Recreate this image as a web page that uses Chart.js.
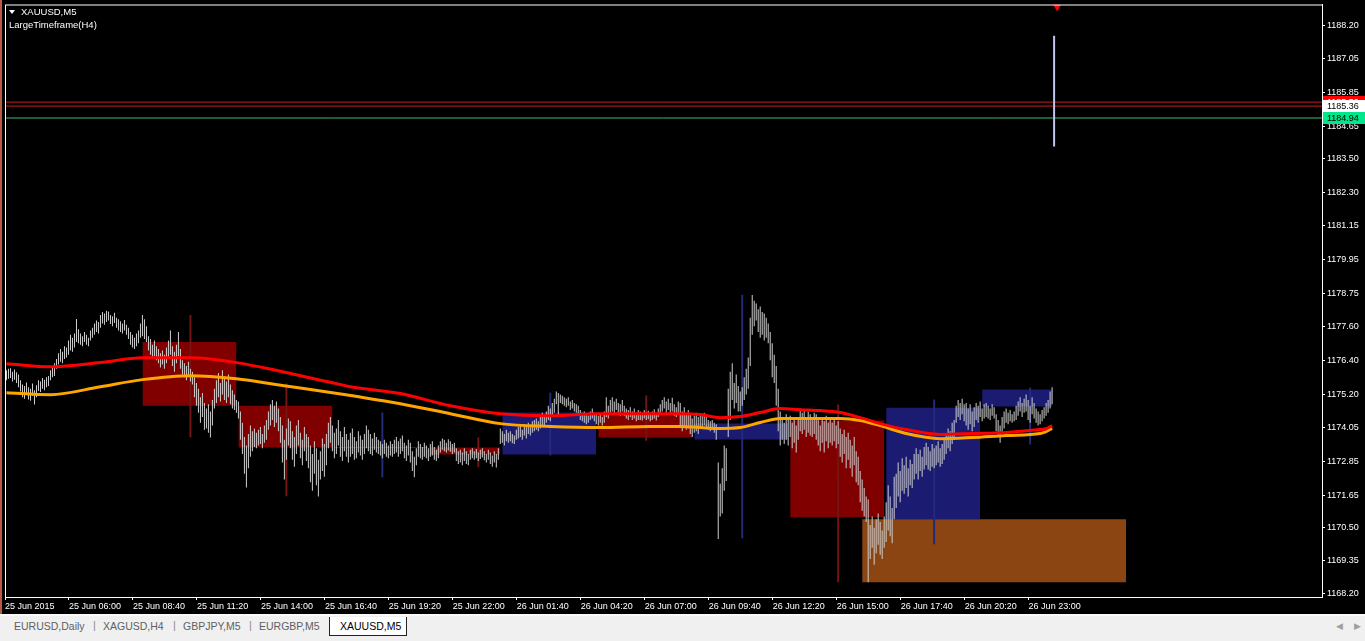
<!DOCTYPE html>
<html>
<head>
<meta charset="utf-8">
<script src="https://cdn.jsdelivr.net/npm/chart.js@4.4.0/dist/chart.umd.min.js"></script>
<style>
body{margin:0;background:#000;width:1365px;height:641px;overflow:hidden;position:relative;font-family:"Liberation Sans",Arial,sans-serif}
#c{position:absolute;left:0;top:0}
#edge{position:absolute;left:0;top:0;width:2px;height:614px;background:#b85a44}
#tabs{position:absolute;left:0;top:614px;width:1365px;height:27px;background:#f0f0f0;border-top:2px solid #fafafa;box-sizing:border-box}
.tab{position:absolute;top:4px;font-size:10.5px;color:#5f5f5f;white-space:nowrap}
.sep{position:absolute;top:3px;font-size:11px;color:#8a8a8a}
#active{position:absolute;left:329px;top:1px;width:78px;height:19px;background:#fff;border:1px solid #222;border-top:none;box-sizing:border-box}
#active span{position:absolute;left:10px;top:3px;font-size:10.5px;color:#000}
.arr{position:absolute;top:5px;font-size:9px;color:#a0a0a0}
</style>
</head>
<body>
<canvas id="c" width="1365" height="614"></canvas>
<div id="edge"></div>
<div id="tabs">
  <span class="tab" style="left:14px">EURUSD,Daily</span>
  <span class="sep" style="left:93px">|</span>
  <span class="tab" style="left:103px">XAGUSD,H4</span>
  <span class="sep" style="left:173px">|</span>
  <span class="tab" style="left:183px">GBPJPY,M5</span>
  <span class="sep" style="left:249px">|</span>
  <span class="tab" style="left:259px">EURGBP,M5</span>
  <div id="active"><span>XAUUSD,M5</span></div>
  <span class="arr" style="left:1336px">&#9664;</span>
  <span class="arr" style="left:1354px">&#9654;</span>
</div>
<script>
// time axis labels, one every 32 M5 bars
const xLabels = ['25 Jun 2015','25 Jun 06:00','25 Jun 08:40','25 Jun 11:20','25 Jun 14:00','25 Jun 16:40',
  '25 Jun 19:20','25 Jun 22:00','26 Jun 01:40','26 Jun 04:20','26 Jun 07:00','26 Jun 09:40','26 Jun 12:20',
  '26 Jun 15:00','26 Jun 17:40','26 Jun 20:20','26 Jun 23:00'];
const yTicks = [1168.20,1169.35,1170.50,1171.65,1172.85,1174.05,1175.20,1176.40,1177.60,1178.75,
  1179.95,1181.15,1182.30,1183.50,1184.65,1185.85,1187.05,1188.20];

// M5 bars (high / low)
const m5High = [
  1176.05,1176.10,1176.12,1176.00,1176.08,1175.98,1175.90,1175.70,1175.55,1175.50,
  1175.62,1175.45,1175.40,1175.58,1175.35,1175.52,1175.70,1175.65,1175.78,1175.72,
  1175.80,1175.85,1176.05,1176.15,1176.30,1176.45,1176.65,1176.80,1176.70,1176.90,
  1176.85,1177.10,1177.30,1177.20,1177.35,1177.86,1177.50,1177.35,1177.25,1177.40,
  1177.30,1177.20,1177.45,1177.55,1177.70,1177.80,1177.75,1178.00,1178.10,1178.05,
  1178.15,1178.12,1178.00,1177.95,1178.08,1177.90,1177.85,1177.78,1177.70,1177.82,
  1177.65,1177.55,1177.40,1177.30,1177.20,1177.35,1177.45,1177.70,1178.00,1177.85,
  1177.60,1177.25,1177.15,1176.95,1177.10,1176.90,1176.80,1176.65,1176.75,1176.60,
  1176.85,1177.10,1177.45,1176.90,1176.70,1176.95,1177.40,1176.80,1176.40,1176.30,
  1176.20,1176.35,1176.10,1176.00,1175.80,1175.60,1175.40,1175.10,1175.25,1174.90,
  1174.70,1174.85,1174.60,1175.00,1175.40,1175.70,1175.95,1175.60,1176.05,1175.80,
  1175.65,1175.90,1175.55,1175.35,1175.20,1175.00,1174.95,1174.60,1174.20,1173.70,
  1173.40,1173.80,1174.10,1173.90,1174.00,1173.85,1173.95,1174.05,1173.80,1174.10,
  1174.30,1174.60,1174.85,1175.00,1174.80,1174.95,1174.70,1174.40,1174.10,1173.60,
  1174.00,1174.35,1174.25,1173.90,1173.70,1174.10,1174.30,1173.85,1173.60,1174.05,
  1173.80,1173.70,1173.40,1173.10,1173.55,1173.30,1172.90,1173.20,1173.65,1173.45,
  1173.80,1174.20,1174.40,1174.10,1173.85,1174.00,1174.30,1173.90,1173.70,1174.05,
  1173.80,1173.60,1173.85,1174.00,1173.70,1173.55,1173.90,1173.75,1173.60,1173.80,
  1174.10,1173.95,1173.80,1173.65,1173.85,1173.70,1173.60,1173.55,1173.45,1173.60,
  1173.50,1173.40,1173.55,1173.45,1173.60,1173.70,1173.55,1173.65,1173.75,1173.50,
  1173.40,1173.60,1173.50,1173.20,1173.00,1173.30,1173.55,1173.45,1173.35,1173.50,
  1173.40,1173.30,1173.45,1173.55,1173.35,1173.25,1173.40,1173.55,1173.65,1173.60,
  1173.50,1173.62,1173.55,1173.45,1173.50,1173.30,1173.20,1173.25,1173.15,1173.30,
  1173.20,1173.10,1173.25,1173.30,1173.20,1173.28,1173.15,1173.25,1173.30,1173.20,
  1173.10,1173.25,1173.15,1173.05,1173.20,1173.10,1173.30,1174.00,1173.90,1173.80,
  1173.95,1173.85,1173.90,1173.80,1173.75,1173.95,1174.05,1174.10,1173.95,1174.15,
  1174.05,1174.20,1174.10,1174.25,1174.30,1174.35,1174.25,1174.40,1174.55,1174.45,
  1174.60,1174.80,1174.70,1174.90,1175.05,1175.30,1175.25,1175.20,1175.15,1175.10,
  1175.05,1175.10,1174.95,1175.00,1174.90,1174.85,1174.80,1174.65,1174.55,1174.60,
  1174.50,1174.45,1174.60,1174.70,1174.55,1174.50,1174.45,1174.55,1174.40,1174.60,
  1175.10,1174.80,1175.00,1175.10,1174.95,1175.05,1174.90,1174.85,1175.00,1174.80,
  1174.70,1174.65,1174.75,1174.60,1174.70,1174.55,1174.65,1174.60,1174.55,1174.65,
  1174.58,1174.62,1174.50,1174.60,1174.68,1174.55,1174.70,1174.85,1175.00,1175.10,
  1174.95,1175.05,1174.90,1175.08,1174.85,1174.75,1174.95,1174.90,1174.60,1174.75,
  1174.50,1174.65,1174.50,1174.35,1174.45,1174.55,1174.40,1174.50,1174.45,1174.55,
  1174.40,1174.30,1174.25,1174.30,1174.20,1174.15,1172.80,1172.05,1172.60,1173.40,
  1173.30,1175.40,1176.00,1176.30,1175.60,1175.90,1175.50,1175.30,1175.45,1175.80,
  1176.10,1176.50,1177.90,1178.70,1178.50,1178.40,1178.20,1178.30,1178.10,1178.05,
  1177.90,1177.70,1177.40,1177.00,1176.60,1176.20,1175.40,1174.60,1174.40,1174.20,
  1174.50,1174.30,1174.45,1174.20,1174.35,1174.10,1174.40,1174.70,1174.55,1174.65,
  1174.40,1174.60,1174.50,1174.35,1174.55,1174.50,1174.30,1174.10,1174.40,1174.25,
  1174.45,1174.20,1174.30,1174.20,1174.35,1174.10,1174.25,1174.00,1173.80,1173.95,
  1173.70,1173.85,1173.60,1173.40,1173.70,1173.20,1173.00,1172.50,1172.20,1171.90,
  1171.60,1171.50,1170.60,1170.90,1170.50,1170.80,1171.00,1170.70,1170.40,1170.90,
  1171.40,1172.00,1171.60,1171.20,1172.30,1172.40,1172.80,1172.50,1172.95,1172.70,
  1173.00,1172.60,1172.90,1172.75,1173.10,1173.30,1173.10,1173.25,1173.00,1173.35,
  1173.50,1173.35,1173.20,1173.45,1173.30,1173.40,1173.55,1173.30,1173.45,1173.60,
  1173.80,1174.00,1173.90,1174.20,1174.30,1174.80,1175.00,1174.90,1175.05,1174.85,
  1174.90,1174.70,1174.85,1174.60,1174.75,1174.90,1174.80,1174.95,1174.70,1174.85,
  1174.90,1174.80,1174.70,1174.85,1174.75,1174.50,1174.30,1174.10,1174.40,1174.60,
  1174.70,1174.55,1174.65,1174.50,1174.60,1174.80,1174.95,1175.10,1174.90,1175.05,
  1175.20,1175.00,1174.80,1175.10,1174.90,1174.70,1174.60,1174.50,1174.65,1174.75,
  1174.90,1175.00,1175.30,1175.45
];
const m5Low = [
  1175.70,1175.75,1175.78,1175.65,1175.72,1175.60,1175.45,1175.30,1175.10,1175.05,
  1175.20,1175.02,1174.98,1175.15,1174.84,1175.10,1175.32,1175.28,1175.40,1175.35,
  1175.45,1175.50,1175.70,1175.80,1175.85,1176.10,1176.25,1176.35,1176.30,1176.45,
  1176.50,1176.60,1176.75,1176.70,1176.85,1177.05,1177.00,1176.95,1176.90,1177.05,
  1176.95,1176.90,1177.10,1177.20,1177.30,1177.40,1177.35,1177.55,1177.70,1177.65,
  1177.75,1177.80,1177.68,1177.60,1177.72,1177.55,1177.45,1177.40,1177.35,1177.45,
  1177.30,1177.15,1176.95,1176.85,1176.80,1176.90,1177.00,1177.20,1177.25,1177.15,
  1177.05,1176.75,1176.60,1176.45,1176.55,1176.40,1176.30,1176.15,1176.25,1176.10,
  1176.30,1176.45,1176.60,1176.20,1176.00,1176.30,1176.55,1176.10,1175.90,1175.80,
  1175.70,1175.85,1175.65,1175.55,1175.10,1174.80,1174.55,1174.20,1174.40,1173.95,
  1174.00,1173.85,1173.68,1174.10,1174.70,1174.90,1175.10,1174.95,1175.20,1175.00,
  1174.90,1175.10,1174.85,1174.70,1174.65,1174.55,1174.35,1173.60,1173.10,1172.40,
  1171.92,1172.60,1173.00,1173.20,1173.35,1173.30,1173.40,1173.45,1173.30,1173.50,
  1173.60,1173.95,1174.10,1174.30,1174.05,1174.20,1173.90,1173.50,1172.80,1172.20,
  1172.90,1173.40,1173.30,1172.90,1172.65,1173.10,1173.40,1172.95,1172.70,1173.20,
  1172.85,1172.60,1172.10,1171.80,1172.40,1172.00,1171.60,1172.20,1172.50,1172.30,
  1172.70,1173.30,1173.50,1173.20,1172.95,1173.10,1173.40,1173.00,1172.85,1173.20,
  1173.00,1172.80,1173.00,1173.10,1172.90,1172.95,1173.15,1173.05,1172.90,1173.10,
  1173.30,1173.20,1173.10,1173.05,1173.25,1173.15,1173.10,1173.05,1172.95,1173.10,
  1173.00,1172.95,1173.05,1173.00,1173.10,1173.15,1173.00,1173.10,1173.20,1172.95,
  1172.85,1173.05,1172.80,1172.50,1172.28,1172.70,1173.00,1172.95,1172.90,1173.00,
  1172.95,1172.85,1173.00,1173.05,1172.90,1172.85,1172.95,1173.15,1173.25,1173.20,
  1173.15,1173.22,1173.18,1173.10,1173.15,1172.85,1172.75,1172.80,1172.70,1172.85,
  1172.75,1172.70,1172.90,1172.95,1172.90,1172.95,1172.85,1172.92,1172.98,1172.88,
  1172.80,1172.90,1172.75,1172.65,1172.80,1172.62,1172.90,1173.45,1173.50,1173.40,
  1173.55,1173.50,1173.55,1173.48,1173.45,1173.60,1173.65,1173.70,1173.60,1173.75,
  1173.65,1173.80,1173.75,1173.85,1173.90,1173.95,1173.90,1174.00,1174.10,1174.05,
  1174.20,1174.30,1174.25,1174.40,1174.55,1174.85,1174.45,1174.90,1174.85,1174.80,
  1174.75,1174.80,1174.65,1174.70,1174.60,1174.55,1174.50,1174.30,1174.25,1174.20,
  1174.15,1174.20,1174.30,1174.35,1174.25,1174.15,1174.10,1174.20,1174.10,1174.20,
  1174.40,1174.35,1174.55,1174.60,1174.50,1174.65,1174.55,1174.45,1174.60,1174.45,
  1174.35,1174.30,1174.40,1174.30,1174.35,1174.25,1174.30,1174.30,1174.28,1174.35,
  1174.30,1174.32,1174.25,1174.30,1174.35,1174.28,1174.40,1174.50,1174.60,1174.70,
  1174.55,1174.65,1174.50,1174.60,1174.45,1174.40,1174.50,1174.10,1173.90,1174.05,
  1173.95,1174.00,1173.80,1173.70,1173.85,1173.90,1173.80,1174.05,1174.00,1174.10,
  1174.00,1173.95,1173.90,1173.95,1173.85,1173.60,1170.10,1170.90,1171.00,1171.80,
  1172.15,1173.70,1174.30,1175.00,1174.70,1174.90,1174.60,1174.60,1174.80,1175.00,
  1175.20,1175.40,1176.20,1177.30,1177.60,1177.80,1177.40,1177.20,1177.30,1177.10,
  1177.20,1177.00,1176.40,1175.80,1175.60,1174.80,1173.90,1173.40,1173.60,1173.45,
  1173.60,1173.40,1173.70,1173.30,1173.50,1173.15,1173.60,1173.90,1173.80,1173.95,
  1173.70,1173.85,1173.75,1173.70,1173.80,1173.60,1173.40,1173.20,1173.50,1173.15,
  1173.55,1173.30,1173.50,1173.40,1173.55,1173.30,1173.45,1173.00,1172.80,1173.10,
  1172.60,1172.90,1172.60,1172.30,1172.70,1172.10,1172.00,1171.40,1171.10,1170.90,
  1170.70,1168.58,1169.40,1169.80,1169.20,1169.60,1169.90,1169.55,1169.40,1169.80,
  1170.00,1170.40,1170.20,1169.95,1170.80,1171.20,1171.60,1171.40,1171.80,1171.70,
  1171.90,1171.60,1172.00,1171.90,1172.20,1172.40,1172.20,1172.50,1172.30,1172.55,
  1172.70,1172.55,1172.50,1172.65,1172.60,1172.70,1172.80,1172.65,1172.75,1172.90,
  1173.10,1173.30,1173.20,1173.45,1173.60,1174.20,1174.40,1174.30,1174.50,1174.25,
  1174.10,1173.95,1174.15,1173.90,1174.05,1174.30,1174.20,1174.40,1174.25,1174.35,
  1174.40,1174.35,1174.30,1174.45,1174.35,1173.90,1173.70,1173.50,1173.80,1174.00,
  1174.20,1174.15,1174.25,1174.20,1174.25,1174.30,1174.45,1174.60,1174.40,1174.55,
  1174.60,1174.30,1174.20,1174.50,1174.35,1174.20,1174.10,1174.15,1174.25,1174.35,
  1174.45,1174.55,1174.70,1174.85
];

// LargeTimeframe(H4) candles, in M5 bar index units
const h4Start = [68,116,164,212,248,296,344,392,440,488];
const h4End   = [115,163,211,247,295,343,391,439,487,523];
const h4Open  = [1177.05,1174.80,1173.31,1173.33,1173.08,1174.52,1173.61,1174.28,1170.80,1174.77];
const h4Close = [1174.80,1173.33,1173.35,1173.08,1174.56,1173.68,1174.17,1170.87,1174.73,1175.37];
const h4High  = [1178.00,1175.58,1174.56,1173.68,1175.26,1175.16,1178.71,1174.84,1175.02,1175.44];
const h4Low   = [1173.68,1171.61,1172.27,1172.63,1173.05,1173.57,1170.13,1168.58,1169.92,1173.43];
const barsPerH4 = 48;

// zone rectangle
const zoneFrom = 428, zoneTo = 560, zoneTop = 1170.80, zoneBottom = 1168.58;

// moving averages
const maIdx = [0,22,47,68,92,115,138,163,172,197,222,247,272,297,322,337,347,357,367,377,
  387,397,407,417,427,437,450,467,483,500,517,520,523];
const maRed = [1176.28,1176.17,1176.32,1176.49,1176.49,1176.32,1176.00,1175.61,1175.47,1175.23,
  1174.80,1174.52,1174.45,1174.52,1174.52,1174.52,1174.49,1174.38,1174.42,1174.56,
  1174.70,1174.66,1174.63,1174.56,1174.38,1174.17,1173.96,1173.79,1173.82,1173.86,
  1173.96,1173.99,1174.10];
const maOrange = [1175.26,1175.19,1175.47,1175.72,1175.86,1175.75,1175.51,1175.26,1175.16,1174.87,
  1174.52,1174.17,1174.07,1174.03,1174.07,1174.07,1174.03,1174.00,1174.03,1174.21,
  1174.35,1174.35,1174.35,1174.35,1174.28,1174.10,1173.82,1173.64,1173.68,1173.75,
  1173.82,1173.89,1174.00];

// horizontal price levels
const levels = [1185.50, 1185.36, 1184.94];
const levelColors = ['#c81e1e', '#c81e1e', '#3cb878'];
const levelBoxBg = ['#ff0000', '#ffffff', '#00e68a'];
const levelBoxFg = ['#ffffff', '#000000', '#000000'];

// spike line and shift marker
const spikeIdx = 524, spikeHigh = 1187.84, spikeLow = 1183.94;
const shiftIdx = 525.5, shiftPrice = 1188.85;

const xMin = -0.75, xMax = 658, yMin = 1168.06, yMax = 1188.94;

const datasets = [];

// H4 bodies (filled between open and close lines) and wicks
h4Start.forEach((s, k) => {
	let up = h4Close[k] >= h4Open[k];
	let col = up ? '#1b1b72' : '#800000';
	datasets.push({type: 'line', data: [{x: s, y: h4Open[k]}, {x: h4End[k], y: h4Open[k]}],
		fill: '+1', backgroundColor: col, borderWidth: 0, pointRadius: 0, order: 30});
	datasets.push({type: 'line', data: [{x: s, y: h4Close[k]}, {x: h4End[k], y: h4Close[k]}],
		fill: false, borderWidth: 0, pointRadius: 0, order: 30});
});
datasets.push({type: 'line', data: [{x: zoneFrom, y: zoneTop}, {x: zoneTo, y: zoneTop}],
	fill: '+1', backgroundColor: '#8b4513', borderWidth: 0, pointRadius: 0, order: 29});
datasets.push({type: 'line', data: [{x: zoneFrom, y: zoneBottom}, {x: zoneTo, y: zoneBottom}],
	fill: false, borderWidth: 0, pointRadius: 0, order: 29});
h4Start.forEach((s, k) => {
	let up = h4Close[k] >= h4Open[k];
	let c = s + barsPerH4 / 2;
	datasets.push({type: 'line', data: [{x: c, y: h4Low[k]}, {x: c, y: h4High[k]}],
		borderColor: up ? '#222a7a' : '#741414', borderWidth: 2, pointRadius: 0, fill: false, order: 28});
});

// M5 bars
datasets.push({
	type: 'bar',
	data: m5High.map((h, i) => ({x: i, y: [m5Low[i], h]})),
	backgroundColor: '#cfcfcf', borderWidth: 0, barThickness: 1, inflateAmount: 0,
	grouped: false, order: 10
});

// levels
levels.forEach((p, k) => {
	datasets.push({type: 'line', data: [{x: xMin, y: p}, {x: xMax, y: p}],
		borderColor: levelColors[k], borderWidth: 1, pointRadius: 0, fill: false, order: 6});
});

// moving averages
datasets.push({type: 'line', data: maIdx.map((x, k) => ({x: x, y: maOrange[k]})),
	borderColor: '#ffa500', borderWidth: 3, pointRadius: 0, fill: false,
	cubicInterpolationMode: 'monotone', order: 4});
datasets.push({type: 'line', data: maIdx.map((x, k) => ({x: x, y: maRed[k]})),
	borderColor: '#ff0000', borderWidth: 3, pointRadius: 0, fill: false,
	cubicInterpolationMode: 'monotone', order: 3});

// spike
datasets.push({type: 'line', data: [{x: spikeIdx, y: spikeLow}, {x: spikeIdx, y: spikeHigh}],
	borderColor: '#c0c4ec', borderWidth: 2, pointRadius: 0, fill: false, order: 2});
// shift marker
datasets.push({type: 'scatter', data: [{x: shiftIdx, y: shiftPrice}],
	pointStyle: 'triangle', rotation: 180, pointRadius: 4.5, backgroundColor: '#ff0000',
	borderWidth: 0, clip: false, order: 1});

// frame, title and price-level boxes
const overlay = {
	id: 'overlay',
	afterDraw(chart) {
		const ctx = chart.ctx;
		const a = chart.chartArea;
		const y = chart.scales.y;
		ctx.save();
		ctx.strokeStyle = '#ffffff';
		ctx.lineWidth = 1;
		ctx.strokeRect(a.left + 0.5, a.top + 0.5, a.right - a.left, a.bottom - a.top);

		ctx.fillStyle = '#ffffff';
		ctx.beginPath();
		ctx.moveTo(9, 10); ctx.lineTo(15, 10); ctx.lineTo(12, 14); ctx.closePath();
		ctx.fill();
		ctx.font = '9.5px "Liberation Sans"';
		ctx.textBaseline = 'middle';
		ctx.fillText('XAUUSD,M5', 21, 12);
		ctx.fillText('LargeTimeframe(H4)', 9, 25);

		ctx.font = '9px "Liberation Sans"';
		levels.forEach((p, k) => {
			let py = Math.round(y.getPixelForValue(p));
			ctx.fillStyle = levelBoxBg[k];
			ctx.fillRect(a.right + 1, py - 6, 42, 12);
			ctx.fillStyle = levelBoxFg[k];
			ctx.fillText(p.toFixed(2), a.right + 5, py + 0.5);
		});
		ctx.restore();
	}
};

new Chart(document.getElementById('c'), {
	type: 'line',
	data: {datasets: datasets},
	options: {
		responsive: false,
		devicePixelRatio: 1,
		animation: false,
		layout: {padding: {left: 5, top: 3, right: 0, bottom: 0}},
		plugins: {legend: {display: false}, tooltip: {enabled: false}, title: {display: false}},
		scales: {
			x: {
				type: 'linear', min: xMin, max: xMax, offset: false,
				grid: {display: true, drawOnChartArea: false, drawTicks: true, tickLength: 3, color: '#ffffff', offset: false},
				border: {display: true, color: '#ffffff'},
				afterBuildTicks: s => { s.ticks = xLabels.map((_, k) => ({value: k * 32 + xMin})); },
				afterFit: s => { s.height = 17; s.paddingLeft = 0; s.paddingRight = 0; },
				ticks: {
					autoSkip: false, maxRotation: 0, minRotation: 0, align: 'start', padding: 1,
					color: '#ffffff', font: {family: 'Liberation Sans', size: 9},
					callback: (v, i) => xLabels[i]
				}
			},
			y: {
				type: 'linear', position: 'right', min: yMin, max: yMax, beginAtZero: false,
				grid: {display: true, drawOnChartArea: false, drawTicks: true, tickLength: 3, color: '#ffffff'},
				border: {display: true, color: '#ffffff'},
				afterBuildTicks: s => { s.ticks = yTicks.map(v => ({value: v})); },
				afterFit: s => { s.width = 43; s.paddingTop = 0; s.paddingBottom = 0; },
				ticks: {
					padding: 2, color: '#ffffff', font: {family: 'Liberation Sans', size: 9},
					callback: v => Number(v).toFixed(2)
				}
			}
		}
	},
	plugins: [overlay]
});
</script>
</body>
</html>
